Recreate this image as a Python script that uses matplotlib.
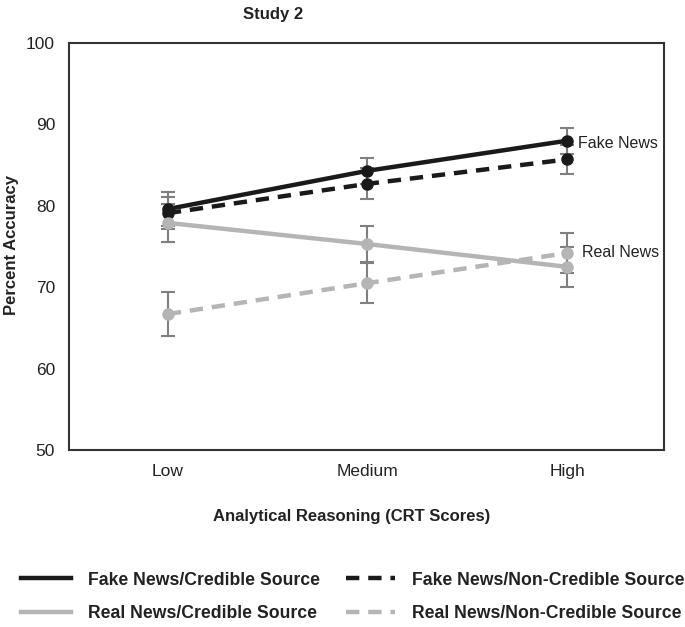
import matplotlib.pyplot as plt
from matplotlib.lines import Line2D

plt.rcParams['font.family'] = ['Liberation Sans', 'DejaVu Sans']

# CRT levels
levels = ["Low", "Medium", "High"]

# percent accuracy and error bar half-widths per condition
fake_cred = [79.6, 84.3, 88.0]
fake_cred_err = [2.1, 1.6, 1.6]
fake_noncred = [79.1, 82.7, 85.7]
fake_noncred_err = [2.0, 1.9, 1.8]
real_cred = [77.9, 75.3, 72.5]
real_cred_err = [2.3, 2.2, 2.5]
real_noncred = [66.7, 70.5, 74.2]
real_noncred_err = [2.7, 2.5, 2.5]

black = "#1a1a1a"
grey = "#b5b5b5"
errc = "#7f7f7f"

fig = plt.figure(figsize=(6.85, 6.27), dpi=100)
ax = fig.add_axes([69 / 685, 1 - 450 / 627, 595 / 685, 407 / 627])

x = list(range(len(levels)))
series = [
    (fake_cred, fake_cred_err, black, "-", "Fake News/Credible Source"),
    (fake_noncred, fake_noncred_err, black, (0, (3, 2)), "Fake News/Non-Credible Source"),
    (real_cred, real_cred_err, grey, "-", "Real News/Credible Source"),
    (real_noncred, real_noncred_err, grey, (0, (3, 2)), "Real News/Non-Credible Source"),
]
for vals, err, col, ls, lab in series:
    ax.errorbar(x, vals, yerr=err, fmt="none", ecolor=errc, elinewidth=1.5,
                capsize=5, capthick=1.5, zorder=2)
    ax.plot(x, vals, color=col, linestyle=ls, linewidth=3.2, marker="o",
            markersize=8, zorder=3)

ax.set_xlim(-0.495, 2.485)
ax.set_ylim(50, 100)
ax.set_yticks([50, 60, 70, 80, 90, 100])
ax.set_xticks(x)
ax.set_xticklabels(levels)
ax.tick_params(length=0, labelsize=12.5, colors="#222222", pad=10)
for s in ax.spines.values():
    s.set_color("#333333")
    s.set_linewidth(1.5)

ax.text(2.055, fake_cred[2] - 0.3, "Fake News", fontsize=11.5, va="center", color="#222222")
ax.text(2.075, 74.3, "Real News", fontsize=11.5, va="center", color="#222222")

fig.text(273 / 685, 1 - 15 / 627, "Study 2", ha="center", va="center",
         fontsize=12, fontweight="bold", color="#222222")
fig.text(12 / 685, 1 - 245 / 627, "Percent Accuracy", rotation=90, ha="center",
         va="center", fontsize=12, fontweight="bold", color="#222222")
fig.text(352 / 685, 1 - 517 / 627, "Analytical Reasoning (CRT Scores)", ha="center",
         va="center", fontsize=12, fontweight="bold", color="#222222")

handles = [Line2D([0], [0], color=c, linestyle=ls, linewidth=3.2) for _, _, c, ls, _ in series]
labels = [s[4] for s in series]
order = [0, 2, 1, 3]
leg = fig.legend([handles[i] for i in order], [labels[i] for i in order], ncol=2,
                 loc="center", bbox_to_anchor=(353 / 685, 1 - 597 / 627), frameon=False,
                 handlelength=2.8, handletextpad=0.95, columnspacing=1.5,
                 labelspacing=0.95, prop={"weight": "bold", "size": 12.7})
for t in leg.get_texts():
    t.set_color("#222222")

fig.savefig("out.png", dpi=100)
